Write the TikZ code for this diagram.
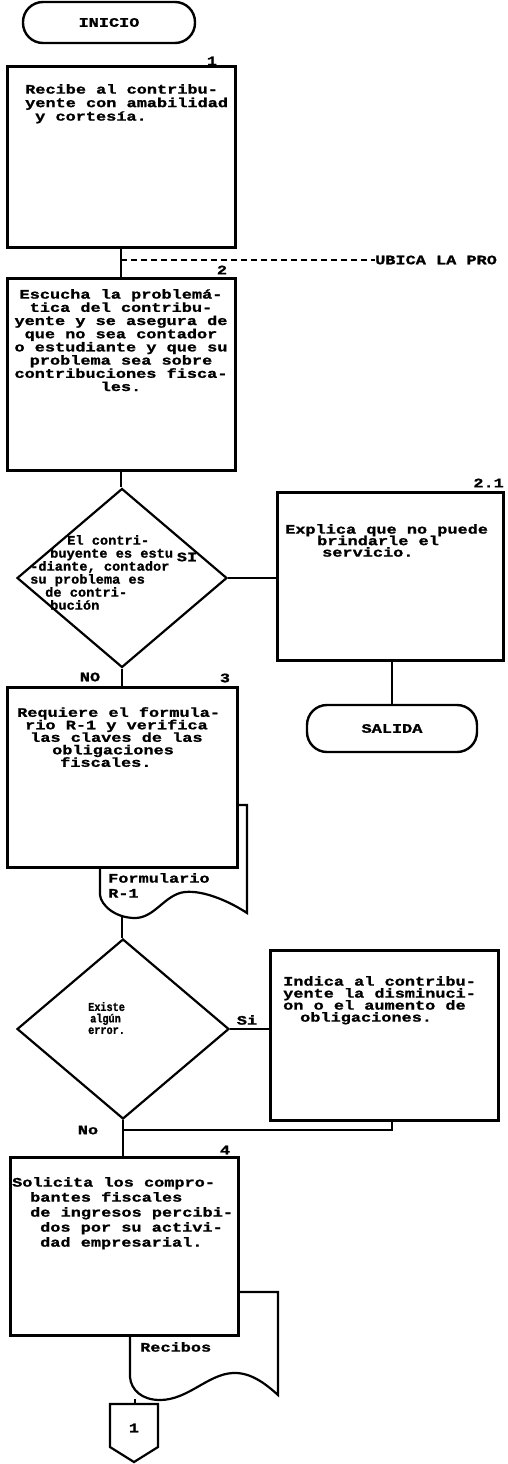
\documentclass[tikz,border=0pt]{standalone}
\usepackage{fontspec}
\newfontfamily\dm[FakeStretch=1.3, BoldFeatures={FakeBold=1.2}]{Liberation Mono}
\newfontfamily\dmm[FakeStretch=1.05, BoldFeatures={FakeBold=1.2}]{Liberation Mono}
\newfontfamily\dmn[FakeStretch=0.85, BoldFeatures={FakeBold=1.2}]{Liberation Mono}
\usetikzlibrary{shapes.geometric}
\newcommand\dmfs[2]{\fontsize{#1}{#2}\selectfont\lineskiplimit=-50pt\lineskip=0pt\relax}
\tikzset{
  every node/.style={font=\dm\bfseries\dmfs{13}{13}, inner sep=0pt},
  box/.style={draw, line width=3pt, fill=white, rectangle},
  term/.style={draw, line width=2.4pt, fill=white, rectangle, rounded corners=20pt},
  dec/.style={draw, line width=2.2pt, fill=white, diamond},
  con/.style={line width=1.5pt},
  docshape/.style={draw, line width=2.2pt, fill=white},
  txt/.style={align=left, anchor=north west},
  ctxt/.style={align=center, anchor=north},
  sp/.style={font=\dm\bfseries\dmfs{13}{#1}}
}
\begin{document}
\begin{tikzpicture}[x=1pt,y=-1pt]
\useasboundingbox (0,0) rectangle (507,1464);

% documents (drawn first, partly hidden by boxes)
\draw[docshape] (100,805) -- (247,805) -- (247,913)
  .. controls (232,903) and (205,890) .. (185,892)
  .. controls (165,894) and (155,918) .. (135,918)
  .. controls (115,918) and (101,905) .. (100,895) -- cycle;
\draw[docshape] (130,1292) -- (278,1292) -- (278,1395)
  .. controls (268,1386) and (252,1372) .. (233,1373)
  .. controls (208,1374) and (188,1400) .. (160,1400)
  .. controls (142,1400) and (131,1390) .. (130,1377) -- cycle;
\coordinate (doc1b) at (122,917);
\coordinate (doc2b) at (135,1399);

% terminals
\node[term, minimum width=172pt, minimum height=41pt] (ini) at (109,22.5) {INICIO};
\node[term, minimum width=170pt, minimum height=47pt] (sal) at (392,728.5) {SALIDA};

% boxes
\node[box, minimum width=228pt, minimum height=180pt] (b1) at (121,157) {};
\node[box, minimum width=228pt, minimum height=192pt] (b2) at (121,374) {};
\node[box, minimum width=226pt, minimum height=168pt] (b21) at (390,576) {};
\node[box, minimum width=230pt, minimum height=180pt] (b3) at (122,777) {};
\node[box, minimum width=228pt, minimum height=170pt] (ind) at (384,1035) {};
\node[box, minimum width=228pt, minimum height=178pt] (b4) at (124,1246) {};

% decisions
\node[dec, minimum width=210pt, minimum height=179pt] (d1) at (122,578) {};
\node[dec, minimum width=212pt, minimum height=180pt] (d2) at (123,1029) {};

% off-page connector
\draw[line width=2.2pt, fill=white] (110,1404) -- (158,1404) -- (158,1447) -- (134,1462) -- (110,1447) -- cycle;
\coordinate (offtop) at (134,1404);
\node (off) at (134,1428) {1};

% texts
\node[txt, sp=13.5] (t1) at (25,84) {Recibe al contribu-\\yente con amabilidad\\\hspace*{10pt}y cortesía.};
\node[ctxt, sp=13.2] (t2) at (121,289) {Escucha la problemá-\\tica del contribu-\\yente y se asegura de\\que no sea contador\\o estudiante y que su\\problema sea sobre\\contribuciones fisca-\\les.};
\node[txt, font=\dmm\bfseries\dmfs{13}{13}] (td1) at (30,535) {\hspace*{37pt}El contri-\\\hspace*{20pt}buyente es estu\\-diante, contador\\su problema es\\\hspace*{15pt}de contri-\\\hspace*{20pt}bución};
\node[txt, sp=11.5] (t21) at (285,524) {Explica que no puede\\\hspace*{32pt}brindarle el\\\hspace*{37pt}servicio.};
\node[txt, sp=12.5] (t3) at (17,707) {Requiere el formula-\\\hspace*{8pt}rio R-1 y verifica\\\hspace*{13pt}las claves de las\\\hspace*{35pt}obligaciones\\\hspace*{43pt}fiscales.};
\node[txt, sp=15] (tf) at (108,873) {Formulario\\R-1};
\node[txt, font=\dmn\bfseries\dmfs{12}{11.5}] (td2) at (88,1002) {Existe\\\hspace*{2pt}algún\\error.};
\node[txt, sp=12] (tind) at (283,976) {Indica al contribu-\\yente la disminuci-\\on o el aumento de\\\hspace*{17pt}obligaciones.};
\node[txt, sp=15] (t4) at (12,1177) {Solicita los compro-\\\hspace*{18pt}bantes fiscales\\\hspace*{18pt}de ingresos percibi-\\\hspace*{28pt}dos por su activi-\\\hspace*{28pt}dad empresarial.};
\node[txt] (tr) at (140,1342) {Recibos};

% step numbers and branch labels
\node (n1) at (212,61) {1};
\node (n2) at (222,270) {2};
\node[anchor=east] (n21) at (504,483) {2.1};
\node (n3) at (225,678) {3};
\node (n4) at (225,1150) {4};
\node (si1) at (187,557) {SI};
\node (no1) at (90,677) {NO};
\node (si2) at (247,1020) {Si};
\node (no2) at (88,1130) {No};

% connectors
\draw[con] (b1.south) -- (b1.south |- b2.north);
\coordinate (dj) at (121,260);
\node[anchor=west] (ubica) at (375,260) {UBICA LA PRO};
\draw[con, dash pattern=on 6pt off 4pt] (dj) -- (ubica.west);
\draw[con] (b2.south) -- (b2.south |- d1.north);
\draw[con] (d1.east) -- (d1.east -| b21.west);
\draw[con] (sal.north |- b21.south) -- (sal.north);
\draw[con] (d1.south) -- (d1.south |- b3.north);
\draw[con] (doc1b) -- (doc1b |- d2.north);
\draw[con] (d2.east) -- (d2.east -| ind.west);
\coordinate (ret) at (392,1130);
\coordinate (join) at (123,1130);
\draw[con] (ind.south -| ret) -- (ret) -- (join);
\draw[con] (d2.south) -- (d2.south |- b4.north);
\draw[con] (doc2b) -- (doc2b |- offtop);
\end{tikzpicture}
\end{document}
